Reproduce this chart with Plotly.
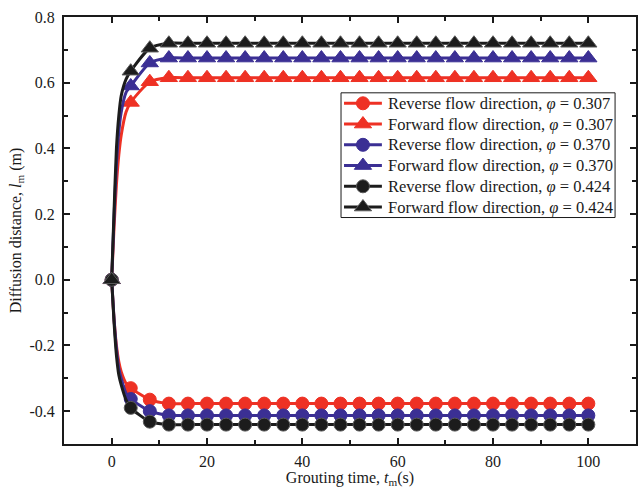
import plotly.graph_objects as go

# Marker times (s)
t_marks = list(range(0, 101, 4))
# Extra early times for the steep initial part of the curves
t_early = [0.5, 1, 1.5, 2, 3]

# Values at marker times
fwd_307 = [0, 0.54, 0.603] + [0.615] * 23
fwd_370 = [0, 0.59, 0.66] + [0.675] * 23
fwd_424 = [0, 0.635, 0.705] + [0.72] * 23
rev_307 = [0, -0.33, -0.365] + [-0.377] * 23
rev_370 = [0, -0.363, -0.40] + [-0.413] * 23
rev_424 = [0, -0.39, -0.432] + [-0.441] * 23

fwd_307_early = [0.16, 0.29, 0.38, 0.44, 0.51]
fwd_370_early = [0.19, 0.35, 0.45, 0.51, 0.57]
fwd_424_early = [0.21, 0.40, 0.50, 0.56, 0.61]
rev_307_early = [-0.12, -0.20, -0.25, -0.28, -0.315]
rev_370_early = [-0.12, -0.21, -0.27, -0.30, -0.345]
rev_424_early = [-0.13, -0.23, -0.29, -0.32, -0.365]

labels = [
    "Reverse flow direction, <i>φ</i> = 0.307",
    "Forward flow direction, <i>φ</i> = 0.307",
    "Reverse flow direction, <i>φ</i> = 0.370",
    "Forward flow direction, <i>φ</i> = 0.370",
    "Reverse flow direction, <i>φ</i> = 0.424",
    "Forward flow direction, <i>φ</i> = 0.424",
]

RED = "#EE3124"
BLUE = "#3B2F94"
BLACK = "#1C1C1C"
INK = "#1a1a1a"

series = [
    (rev_307, rev_307_early, RED, RED, "circle", 13),
    (fwd_307, fwd_307_early, RED, RED, "triangle-up", 15),
    (rev_370, rev_370_early, BLUE, BLUE, "circle", 13),
    (fwd_370, fwd_370_early, BLUE, BLUE, "triangle-up", 15),
    (rev_424, rev_424_early, BLACK, "#5a5a5a", "circle", 13),
    (fwd_424, fwd_424_early, BLACK, "#5a5a5a", "triangle-up", 15),
]

# Legend geometry in pixel units of the overlay axes (plot area = 64..638 x 17..445)
PLOT_X = [64, 638]
PLOT_Y = [445, 17]
LEG_BOX_X = [342, 617]
LEG_BOX_Y = [93, 218]
LEG_ROW0 = 103.5
LEG_ROW_STEP = 20.8
LEG_LINE_X = [345, 383]
LEG_TEXT_X = 387


def merged(vals, early):
    pts = list(zip(t_marks, vals)) + list(zip(t_early, early))
    pts.sort()
    return [p[0] for p in pts], [p[1] for p in pts]


fig = go.Figure()
for (vals, early, col, edge, sym, sz) in series:
    xs, ys = merged(vals, early)
    fig.add_trace(go.Scatter(
        x=xs, y=ys, mode="lines", line=dict(color=col, width=3, shape="spline", smoothing=0.6),
        showlegend=False, hoverinfo="skip"))
    fig.add_trace(go.Scatter(
        x=t_marks, y=vals, mode="markers",
        marker=dict(symbol=sym, size=sz, color=col, line=dict(color=edge, width=1)),
        showlegend=False))

# Legend (drawn on an overlay subplot so rows can be spaced like the reference)
bx0, bx1 = LEG_BOX_X
by0, by1 = LEG_BOX_Y
fig.add_trace(go.Scatter(
    x=[bx0, bx1, bx1, bx0, bx0], y=[by0, by0, by1, by1, by0],
    mode="lines", fill="toself", fillcolor="white", line=dict(color=INK, width=1),
    xaxis="x2", yaxis="y2", showlegend=False, hoverinfo="skip"))
for i, ((vals, early, col, edge, sym, sz), name) in enumerate(zip(series, labels)):
    ry = LEG_ROW0 + i * LEG_ROW_STEP
    fig.add_trace(go.Scatter(
        x=LEG_LINE_X, y=[ry, ry], mode="lines", line=dict(color=col, width=3),
        xaxis="x2", yaxis="y2", showlegend=False, hoverinfo="skip"))
    fig.add_trace(go.Scatter(
        x=[(LEG_LINE_X[0] + LEG_LINE_X[1]) / 2], y=[ry], mode="markers",
        marker=dict(symbol=sym, size=sz, color=col, line=dict(color=edge, width=1)),
        xaxis="x2", yaxis="y2", showlegend=False, hoverinfo="skip"))
    fig.add_annotation(
        x=LEG_TEXT_X, y=ry, xref="x2", yref="y2", text=name, showarrow=False,
        xanchor="left", yanchor="middle",
        font=dict(family="Liberation Serif, Times New Roman, serif", size=16.5, color=INK))

SERIF = "Liberation Serif, Times New Roman, serif"

fig.update_layout(
    width=640, height=488,
    margin=dict(l=64, r=2, t=17, b=43),
    paper_bgcolor="white", plot_bgcolor="white",
    font=dict(family=SERIF, size=16, color=INK),
    showlegend=False,
    xaxis=dict(
        range=[-10, 110], tickmode="array", tickvals=[0, 20, 40, 60, 80, 100],
        ticks="inside", ticklen=6, tickwidth=2, tickcolor=INK,
        tickfont=dict(family=SERIF, size=16, color=INK),
        ticklabelstandoff=2,
        minor=dict(tickvals=[10, 30, 50, 70, 90], ticks="inside", ticklen=4, tickwidth=2, tickcolor=INK),
        showline=True, linecolor=INK, linewidth=2, mirror="ticks",
        showgrid=False, zeroline=False,
        title=dict(text="Grouting time, <i>t</i><sub>m</sub>(s)", standoff=5,
                   font=dict(family=SERIF, size=16, color=INK)),
    ),
    yaxis=dict(
        range=[-0.5, 0.8], tickmode="array",
        tickvals=[-0.4, -0.2, 0.0, 0.2, 0.4, 0.6, 0.8],
        ticktext=["-0.4", "-0.2", "0.0", "0.2", "0.4", "0.6", "0.8"],
        ticks="inside", ticklen=6, tickwidth=2, tickcolor=INK,
        tickfont=dict(family=SERIF, size=16, color=INK),
        ticklabelstandoff=4,
        minor=dict(tickvals=[-0.3, -0.1, 0.1, 0.3, 0.5, 0.7], ticks="inside", ticklen=4, tickwidth=2, tickcolor=INK),
        showline=True, linecolor=INK, linewidth=2, mirror="ticks",
        showgrid=False, zeroline=False,
        title=dict(text="Diffusion distance, <i>l</i><sub>m</sub> (m)", standoff=4,
                   font=dict(family=SERIF, size=16, color=INK)),
    ),
    xaxis2=dict(overlaying="x", anchor="y2", range=PLOT_X, visible=False, fixedrange=True),
    yaxis2=dict(overlaying="y", anchor="x2", range=PLOT_Y, visible=False, fixedrange=True),
)

fig.write_html("out.html")
